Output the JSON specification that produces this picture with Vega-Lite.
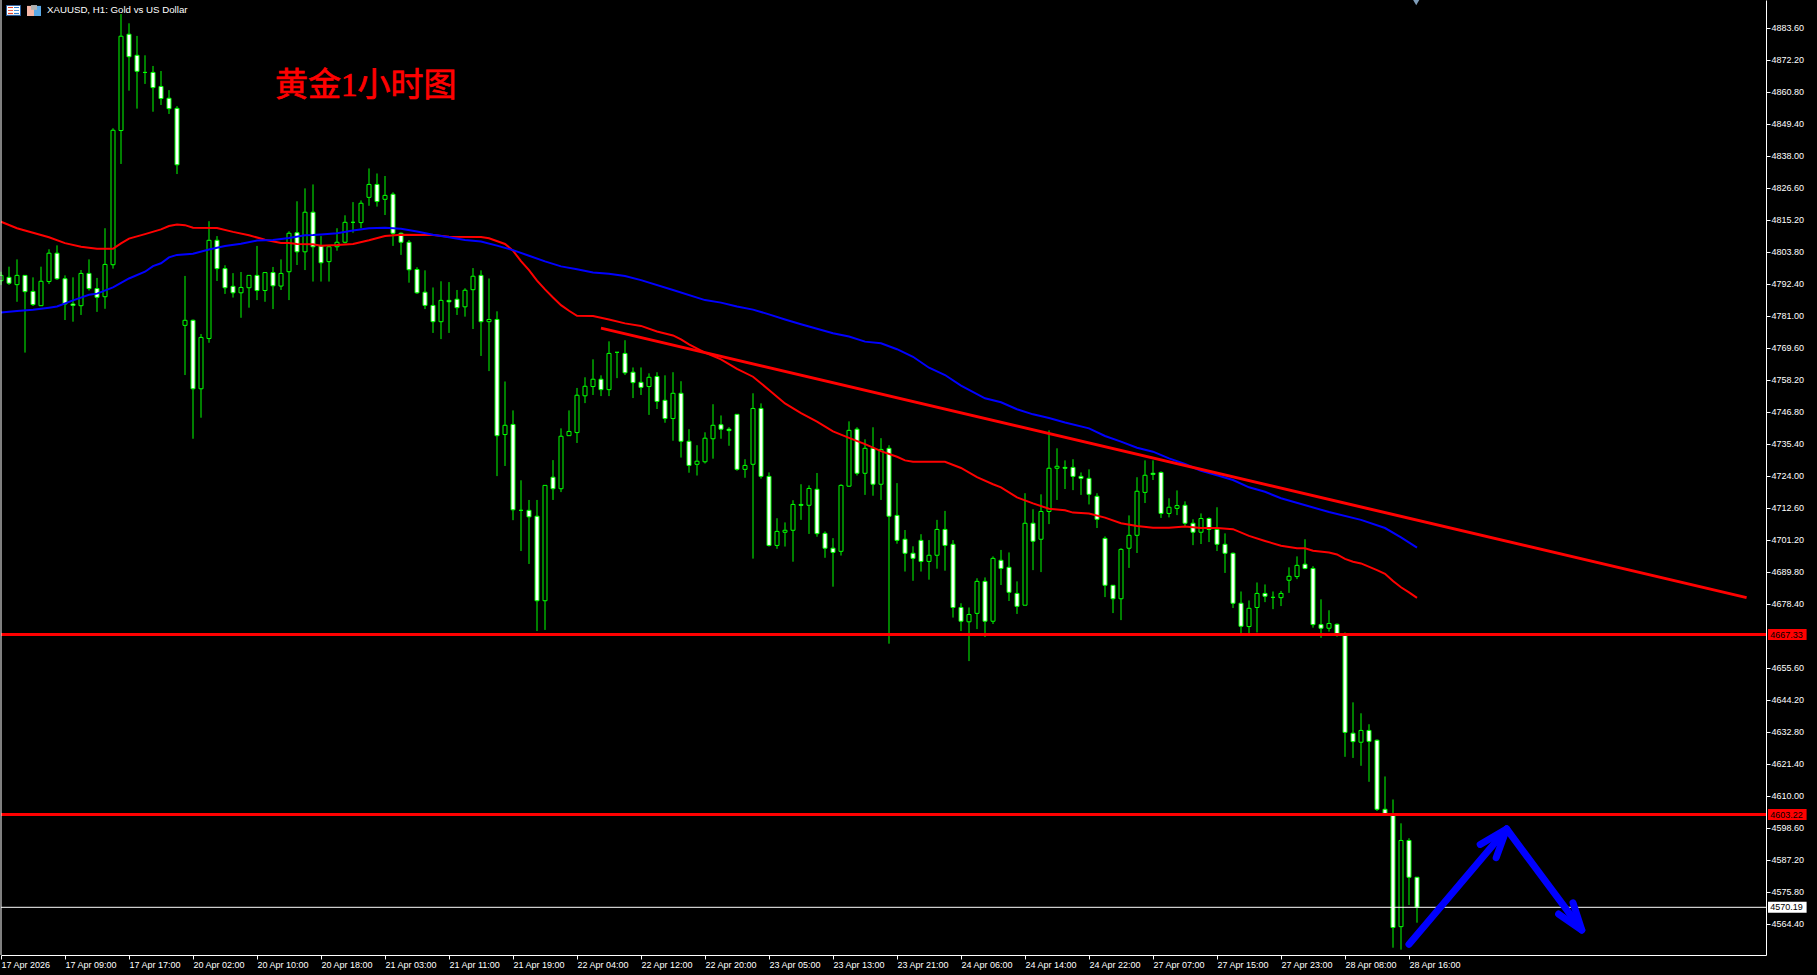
{
"$schema":"https://vega.github.io/schema/vega-lite/v6.json",
"width":1765,"height":955,
"autosize":{"type":"none"},
"padding":{"left":1,"top":0,"right":51,"bottom":20},
"background":"#000000",
"config":{"view":{"stroke":null}},
"datasets":{
"candles":[
{"i":0,"o":4793.4,"h":4796.6,"l":4791.9,"c":4795.3},{"i":1,"o":4794.6,"h":4798.4,"l":4791.9,"c":4792.5},{"i":2,"o":4792.0,"h":4801.0,"l":4785.9,"c":4795.3},{"i":3,"o":4795.3,"h":4795.3,"l":4767.8,"c":4789.5},{"i":4,"o":4789.6,"h":4794.6,"l":4784.4,"c":4784.9},{"i":5,"o":4784.5,"h":4798.4,"l":4784.4,"c":4793.2},{"i":6,"o":4793.1,"h":4804.6,"l":4792.2,"c":4803.2},{"i":7,"o":4803.2,"h":4806.0,"l":4793.7,"c":4794.1},{"i":8,"o":4794.1,"h":4795.3,"l":4779.4,"c":4785.1},{"i":9,"o":4785.1,"h":4794.6,"l":4778.8,"c":4784.6},
{"i":10,"o":4784.5,"h":4797.2,"l":4781.2,"c":4796.0},{"i":11,"o":4796.0,"h":4801.0,"l":4789.9,"c":4790.6},{"i":12,"o":4790.6,"h":4794.4,"l":4782.3,"c":4787.5},{"i":13,"o":4787.7,"h":4812.1,"l":4783.4,"c":4799.2},{"i":14,"o":4799.1,"h":4847.7,"l":4797.7,"c":4847.0},{"i":15,"o":4846.9,"h":4888.4,"l":4835.0,"c":4880.5},{"i":16,"o":4881.2,"h":4885.1,"l":4861.1,"c":4873.2},{"i":17,"o":4873.7,"h":4880.6,"l":4854.7,"c":4868.0},{"i":18,"o":4867.6,"h":4873.7,"l":4863.5,"c":4867.6},{"i":19,"o":4867.6,"h":4869.9,"l":4853.6,"c":4862.2},
{"i":20,"o":4862.6,"h":4868.1,"l":4856.0,"c":4858.3},{"i":21,"o":4858.4,"h":4861.3,"l":4852.8,"c":4854.7},{"i":22,"o":4854.8,"h":4855.6,"l":4831.4,"c":4834.7},{"i":23,"o":4777.5,"h":4795.1,"l":4759.8,"c":4779.3},{"i":24,"o":4779.3,"h":4779.6,"l":4737.1,"c":4754.9},{"i":25,"o":4754.9,"h":4774.4,"l":4744.6,"c":4773.2},{"i":26,"o":4772.8,"h":4814.6,"l":4771.3,"c":4807.8},{"i":27,"o":4807.8,"h":4809.3,"l":4793.3,"c":4797.7},{"i":28,"o":4797.7,"h":4798.9,"l":4788.7,"c":4790.9},{"i":29,"o":4791.4,"h":4796.1,"l":4787.4,"c":4789.1},
{"i":30,"o":4789.1,"h":4796.5,"l":4780.2,"c":4791.0},{"i":31,"o":4790.9,"h":4795.3,"l":4783.8,"c":4795.3},{"i":32,"o":4795.3,"h":4805.8,"l":4786.5,"c":4789.9},{"i":33,"o":4789.9,"h":4796.3,"l":4785.9,"c":4796.3},{"i":34,"o":4796.3,"h":4798.3,"l":4783.3,"c":4791.6},{"i":35,"o":4791.5,"h":4801.0,"l":4790.1,"c":4796.0},{"i":36,"o":4796.6,"h":4811.0,"l":4786.5,"c":4810.3},{"i":37,"o":4810.5,"h":4821.7,"l":4799.0,"c":4803.7},{"i":38,"o":4803.7,"h":4826.3,"l":4797.2,"c":4817.8},{"i":39,"o":4817.8,"h":4827.7,"l":4793.1,"c":4805.5},
{"i":40,"o":4805.8,"h":4809.3,"l":4793.1,"c":4799.8},{"i":41,"o":4800.2,"h":4806.1,"l":4793.1,"c":4805.5},{"i":42,"o":4805.5,"h":4812.1,"l":4804.1,"c":4807.1},{"i":43,"o":4807.1,"h":4816.7,"l":4806.7,"c":4814.2},{"i":44,"o":4814.2,"h":4821.4,"l":4810.5,"c":4814.2},{"i":45,"o":4814.1,"h":4822.0,"l":4812.1,"c":4821.0},{"i":46,"o":4823.1,"h":4833.4,"l":4820.1,"c":4827.7},{"i":47,"o":4827.7,"h":4831.6,"l":4819.8,"c":4821.6},{"i":48,"o":4822.4,"h":4830.7,"l":4816.8,"c":4823.8},{"i":49,"o":4824.2,"h":4824.9,"l":4805.8,"c":4810.3},
{"i":50,"o":4810.3,"h":4810.6,"l":4802.6,"c":4807.1},{"i":51,"o":4807.1,"h":4807.9,"l":4792.7,"c":4797.3},{"i":52,"o":4797.4,"h":4798.2,"l":4788.7,"c":4789.1},{"i":53,"o":4789.3,"h":4797.1,"l":4783.3,"c":4784.6},{"i":54,"o":4784.6,"h":4791.0,"l":4774.8,"c":4778.8},{"i":55,"o":4778.8,"h":4793.2,"l":4772.6,"c":4786.4},{"i":56,"o":4786.4,"h":4792.9,"l":4774.8,"c":4785.9},{"i":57,"o":4786.8,"h":4790.1,"l":4781.2,"c":4783.8},{"i":58,"o":4784.1,"h":4790.7,"l":4780.6,"c":4790.0},{"i":59,"o":4790.2,"h":4797.9,"l":4776.2,"c":4795.0},
{"i":60,"o":4795.3,"h":4797.1,"l":4766.6,"c":4778.8},{"i":61,"o":4778.8,"h":4794.2,"l":4761.2,"c":4779.6},{"i":62,"o":4779.6,"h":4782.5,"l":4723.8,"c":4738.2},{"i":63,"o":4738.6,"h":4757.5,"l":4727.4,"c":4741.9},{"i":64,"o":4742.2,"h":4747.2,"l":4708.1,"c":4711.8},{"i":65,"o":4711.6,"h":4722.3,"l":4697.1,"c":4711.6},{"i":66,"o":4711.6,"h":4715.3,"l":4692.5,"c":4709.3},{"i":67,"o":4709.5,"h":4715.3,"l":4668.6,"c":4679.4},{"i":68,"o":4679.4,"h":4720.5,"l":4669.0,"c":4720.5},{"i":69,"o":4723.4,"h":4729.5,"l":4715.3,"c":4719.3},
{"i":70,"o":4719.3,"h":4740.8,"l":4718.1,"c":4738.0},{"i":71,"o":4738.2,"h":4747.2,"l":4738.2,"c":4739.7},{"i":72,"o":4739.3,"h":4755.2,"l":4735.6,"c":4752.6},{"i":73,"o":4752.4,"h":4759.0,"l":4749.8,"c":4755.8},{"i":74,"o":4755.7,"h":4765.4,"l":4752.7,"c":4758.3},{"i":75,"o":4758.3,"h":4759.7,"l":4752.3,"c":4754.6},{"i":76,"o":4754.6,"h":4771.8,"l":4752.3,"c":4767.5},{"i":77,"o":4767.9,"h":4767.9,"l":4758.7,"c":4767.9},{"i":78,"o":4767.5,"h":4772.2,"l":4759.8,"c":4760.6},{"i":79,"o":4760.8,"h":4762.5,"l":4751.6,"c":4757.1},
{"i":80,"o":4757.2,"h":4762.5,"l":4752.7,"c":4755.4},{"i":81,"o":4755.7,"h":4760.4,"l":4745.6,"c":4759.0},{"i":82,"o":4759.3,"h":4760.8,"l":4747.7,"c":4750.4},{"i":83,"o":4750.8,"h":4759.7,"l":4742.8,"c":4744.3},{"i":84,"o":4744.3,"h":4760.8,"l":4736.4,"c":4753.3},{"i":85,"o":4753.3,"h":4757.6,"l":4730.4,"c":4736.2},{"i":86,"o":4736.2,"h":4740.5,"l":4725.0,"c":4727.6},{"i":87,"o":4728.0,"h":4734.8,"l":4724.0,"c":4729.1},{"i":88,"o":4728.9,"h":4739.4,"l":4728.3,"c":4737.3},{"i":89,"o":4737.1,"h":4749.4,"l":4730.0,"c":4741.9},
{"i":90,"o":4742.1,"h":4745.4,"l":4737.1,"c":4740.5},{"i":91,"o":4740.5,"h":4741.2,"l":4734.6,"c":4740.0},{"i":92,"o":4745.8,"h":4745.8,"l":4725.7,"c":4726.2},{"i":93,"o":4726.2,"h":4729.8,"l":4723.2,"c":4727.6},{"i":94,"o":4728.0,"h":4753.3,"l":4694.4,"c":4747.9},{"i":95,"o":4747.9,"h":4749.7,"l":4722.9,"c":4723.7},{"i":96,"o":4723.7,"h":4725.1,"l":4698.7,"c":4699.1},{"i":97,"o":4699.1,"h":4708.8,"l":4697.9,"c":4704.1},{"i":98,"o":4703.8,"h":4707.3,"l":4698.7,"c":4704.5},{"i":99,"o":4704.5,"h":4715.2,"l":4693.3,"c":4713.7},
{"i":100,"o":4713.7,"h":4720.9,"l":4708.2,"c":4713.4},{"i":101,"o":4713.4,"h":4720.5,"l":4703.2,"c":4719.4},{"i":102,"o":4719.1,"h":4724.9,"l":4702.2,"c":4703.3},{"i":103,"o":4703.4,"h":4704.1,"l":4694.7,"c":4698.1},{"i":104,"o":4698.1,"h":4701.7,"l":4684.4,"c":4696.6},{"i":105,"o":4697.0,"h":4720.9,"l":4695.5,"c":4720.5},{"i":106,"o":4720.2,"h":4743.3,"l":4720.0,"c":4740.1},{"i":107,"o":4740.5,"h":4741.2,"l":4724.0,"c":4724.8},{"i":108,"o":4724.8,"h":4736.9,"l":4717.1,"c":4733.7},{"i":109,"o":4733.7,"h":4741.2,"l":4716.8,"c":4720.9},
{"i":110,"o":4720.9,"h":4737.3,"l":4715.3,"c":4733.3},{"i":111,"o":4733.7,"h":4734.8,"l":4664.1,"c":4709.5},{"i":112,"o":4709.8,"h":4721.3,"l":4699.7,"c":4700.9},{"i":113,"o":4701.3,"h":4704.6,"l":4689.8,"c":4696.3},{"i":114,"o":4696.3,"h":4698.8,"l":4686.5,"c":4694.5},{"i":115,"o":4700.9,"h":4703.1,"l":4689.8,"c":4693.4},{"i":116,"o":4693.4,"h":4701.0,"l":4686.9,"c":4695.6},{"i":117,"o":4695.6,"h":4708.2,"l":4690.8,"c":4704.8},{"i":118,"o":4704.8,"h":4711.4,"l":4690.1,"c":4699.1},{"i":119,"o":4699.5,"h":4701.0,"l":4673.4,"c":4677.0},
{"i":120,"o":4677.0,"h":4678.5,"l":4668.6,"c":4672.1},{"i":121,"o":4671.9,"h":4677.0,"l":4657.9,"c":4674.5},{"i":122,"o":4674.9,"h":4687.4,"l":4669.3,"c":4686.3},{"i":123,"o":4686.3,"h":4687.7,"l":4666.5,"c":4672.1},{"i":124,"o":4672.1,"h":4695.2,"l":4671.1,"c":4694.5},{"i":125,"o":4693.8,"h":4697.5,"l":4685.0,"c":4690.9},{"i":126,"o":4691.3,"h":4696.6,"l":4679.3,"c":4682.4},{"i":127,"o":4682.0,"h":4686.3,"l":4674.7,"c":4677.4},{"i":128,"o":4677.8,"h":4717.7,"l":4677.8,"c":4707.0},{"i":129,"o":4707.0,"h":4712.0,"l":4690.3,"c":4700.6},
{"i":130,"o":4701.3,"h":4717.3,"l":4689.6,"c":4711.2},{"i":131,"o":4711.2,"h":4740.1,"l":4706.7,"c":4726.6},{"i":132,"o":4726.6,"h":4733.7,"l":4715.3,"c":4727.3},{"i":133,"o":4726.9,"h":4729.4,"l":4719.2,"c":4726.6},{"i":134,"o":4726.9,"h":4729.8,"l":4718.8,"c":4723.7},{"i":135,"o":4723.7,"h":4725.1,"l":4717.1,"c":4723.0},{"i":136,"o":4723.0,"h":4726.2,"l":4713.7,"c":4717.3},{"i":137,"o":4716.6,"h":4717.7,"l":4705.3,"c":4708.4},{"i":138,"o":4701.6,"h":4702.3,"l":4680.7,"c":4684.9},{"i":139,"o":4684.9,"h":4684.9,"l":4675.0,"c":4680.1},
{"i":140,"o":4680.1,"h":4698.1,"l":4672.5,"c":4697.7},{"i":141,"o":4698.1,"h":4709.8,"l":4691.1,"c":4702.7},{"i":142,"o":4702.7,"h":4723.4,"l":4696.4,"c":4718.4},{"i":143,"o":4718.0,"h":4729.4,"l":4714.2,"c":4724.1},{"i":144,"o":4724.8,"h":4729.4,"l":4722.4,"c":4724.4},{"i":145,"o":4725.1,"h":4725.5,"l":4708.9,"c":4710.5},{"i":146,"o":4710.5,"h":4715.9,"l":4709.1,"c":4712.7},{"i":147,"o":4712.3,"h":4718.7,"l":4709.9,"c":4713.3},{"i":148,"o":4713.4,"h":4714.8,"l":4705.8,"c":4707.0},{"i":149,"o":4707.0,"h":4708.4,"l":4699.2,"c":4703.8},
{"i":150,"o":4703.8,"h":4710.5,"l":4699.6,"c":4708.7},{"i":151,"o":4708.7,"h":4709.1,"l":4700.3,"c":4704.8},{"i":152,"o":4704.8,"h":4712.7,"l":4697.1,"c":4699.5},{"i":153,"o":4699.5,"h":4703.4,"l":4689.3,"c":4696.3},{"i":154,"o":4696.3,"h":4696.6,"l":4676.8,"c":4678.5},{"i":155,"o":4678.5,"h":4682.7,"l":4667.8,"c":4670.3},{"i":156,"o":4670.2,"h":4679.5,"l":4667.8,"c":4676.7},{"i":157,"o":4677.0,"h":4685.9,"l":4668.1,"c":4682.0},{"i":158,"o":4682.0,"h":4685.2,"l":4678.9,"c":4681.0},{"i":159,"o":4680.6,"h":4682.7,"l":4676.4,"c":4680.6},
{"i":160,"o":4680.5,"h":4682.9,"l":4677.5,"c":4682.0},{"i":161,"o":4686.7,"h":4691.3,"l":4682.2,"c":4688.1},{"i":162,"o":4688.0,"h":4695.2,"l":4687.1,"c":4692.0},{"i":163,"o":4692.4,"h":4701.3,"l":4690.6,"c":4690.9},{"i":164,"o":4690.9,"h":4691.7,"l":4669.8,"c":4670.9},{"i":165,"o":4670.9,"h":4679.9,"l":4666.2,"c":4669.6},{"i":166,"o":4669.6,"h":4676.0,"l":4668.4,"c":4671.3},{"i":167,"o":4671.0,"h":4671.3,"l":4666.6,"c":4667.4},{"i":168,"o":4667.4,"h":4668.1,"l":4623.8,"c":4632.5},{"i":169,"o":4632.2,"h":4643.2,"l":4623.4,"c":4629.2},
{"i":170,"o":4629.0,"h":4639.3,"l":4620.6,"c":4633.2},{"i":171,"o":4633.2,"h":4635.4,"l":4614.9,"c":4629.3},{"i":172,"o":4629.7,"h":4630.0,"l":4604.5,"c":4605.1},{"i":173,"o":4605.1,"h":4616.8,"l":4603.1,"c":4603.1},{"i":174,"o":4603.3,"h":4608.6,"l":4555.8,"c":4563.0},{"i":175,"o":4563.3,"h":4600.1,"l":4555.1,"c":4594.0},{"i":176,"o":4594.0,"h":4594.8,"l":4571.0,"c":4580.9},{"i":177,"o":4580.9,"h":4580.9,"l":4564.7,"c":4570.2}
],
"averages":[
{"ma":"fast","i":0,"p":4814.4},{"ma":"fast","i":2,"p":4812.1},{"ma":"fast","i":4,"p":4810.5},{"ma":"fast","i":6,"p":4808.9},{"ma":"fast","i":8,"p":4806.8},{"ma":"fast","i":10,"p":4805.5},{"ma":"fast","i":12,"p":4804.8},{"ma":"fast","i":14,"p":4804.8},{"ma":"fast","i":15,"p":4806.7},{"ma":"fast","i":16,"p":4808.4},{"ma":"fast","i":18,"p":4810.0},{"ma":"fast","i":20,"p":4811.7},{"ma":"fast","i":21,"p":4812.9},{"ma":"fast","i":22,"p":4813.4},{"ma":"fast","i":23,"p":4813.2},{"ma":"fast","i":24,"p":4812.3},{"ma":"fast","i":27,"p":4812.2},{"ma":"fast","i":29,"p":4810.8},{"ma":"fast","i":31,"p":4809.6},{"ma":"fast","i":33,"p":4808.0},{"ma":"fast","i":35,"p":4806.8},{"ma":"fast","i":36,"p":4806.8},{"ma":"fast","i":37,"p":4806.5},{"ma":"fast","i":39,"p":4806.4},
{"ma":"fast","i":40,"p":4805.9},{"ma":"fast","i":42,"p":4806.1},{"ma":"fast","i":44,"p":4806.5},{"ma":"fast","i":46,"p":4807.8},{"ma":"fast","i":48,"p":4809.3},{"ma":"fast","i":50,"p":4809.8},{"ma":"fast","i":54,"p":4809.7},{"ma":"fast","i":56,"p":4809.1},{"ma":"fast","i":60,"p":4809.0},{"ma":"fast","i":61,"p":4808.5},{"ma":"fast","i":63,"p":4806.5},{"ma":"fast","i":64,"p":4804.1},{"ma":"fast","i":65,"p":4800.4},{"ma":"fast","i":66,"p":4797.2},{"ma":"fast","i":67,"p":4793.4},{"ma":"fast","i":68,"p":4790.3},{"ma":"fast","i":69,"p":4787.4},{"ma":"fast","i":70,"p":4784.7},{"ma":"fast","i":71,"p":4782.7},{"ma":"fast","i":72,"p":4780.9},{"ma":"fast","i":74,"p":4780.8},{"ma":"fast","i":76,"p":4779.6},{"ma":"fast","i":78,"p":4778.2},
{"ma":"fast","i":80,"p":4777.3},{"ma":"fast","i":82,"p":4775.3},{"ma":"fast","i":84,"p":4773.9},{"ma":"fast","i":85,"p":4772.5},{"ma":"fast","i":86,"p":4770.7},{"ma":"fast","i":88,"p":4767.8},{"ma":"fast","i":90,"p":4765.4},{"ma":"fast","i":92,"p":4762.0},{"ma":"fast","i":94,"p":4759.2},{"ma":"fast","i":96,"p":4754.5},{"ma":"fast","i":98,"p":4749.7},{"ma":"fast","i":100,"p":4746.2},{"ma":"fast","i":102,"p":4743.2},{"ma":"fast","i":104,"p":4739.7},{"ma":"fast","i":106,"p":4737.4},{"ma":"fast","i":108,"p":4735.2},{"ma":"fast","i":110,"p":4732.7},{"ma":"fast","i":112,"p":4730.7},{"ma":"fast","i":113,"p":4729.4},{"ma":"fast","i":114,"p":4728.9},{"ma":"fast","i":118,"p":4728.9},{"ma":"fast","i":120,"p":4726.7},
{"ma":"fast","i":122,"p":4723.4},{"ma":"fast","i":124,"p":4720.9},{"ma":"fast","i":125,"p":4719.8},{"ma":"fast","i":127,"p":4716.2},{"ma":"fast","i":129,"p":4714.1},{"ma":"fast","i":131,"p":4712.2},{"ma":"fast","i":133,"p":4711.6},{"ma":"fast","i":134,"p":4710.8},{"ma":"fast","i":136,"p":4710.5},{"ma":"fast","i":138,"p":4709.0},{"ma":"fast","i":140,"p":4707.0},{"ma":"fast","i":142,"p":4706.0},{"ma":"fast","i":144,"p":4705.4},{"ma":"fast","i":146,"p":4705.4},{"ma":"fast","i":148,"p":4705.8},{"ma":"fast","i":150,"p":4705.3},{"ma":"fast","i":152,"p":4705.3},{"ma":"fast","i":154,"p":4704.9},{"ma":"fast","i":156,"p":4702.5},{"ma":"fast","i":158,"p":4700.7},
{"ma":"fast","i":160,"p":4699.0},{"ma":"fast","i":162,"p":4698.1},{"ma":"fast","i":163,"p":4698.1},{"ma":"fast","i":164,"p":4697.2},{"ma":"fast","i":166,"p":4696.6},{"ma":"fast","i":167,"p":4695.9},{"ma":"fast","i":168,"p":4694.3},{"ma":"fast","i":169,"p":4693.3},{"ma":"fast","i":170,"p":4692.7},{"ma":"fast","i":172,"p":4690.3},{"ma":"fast","i":173,"p":4689.0},{"ma":"fast","i":174,"p":4686.4},{"ma":"fast","i":175,"p":4684.2},{"ma":"fast","i":176,"p":4682.4},{"ma":"fast","i":177,"p":4680.4},
{"ma":"slow","i":0,"p":4782.1},{"ma":"slow","i":2,"p":4782.6},{"ma":"slow","i":4,"p":4783.1},{"ma":"slow","i":6,"p":4783.8},{"ma":"slow","i":7,"p":4784.2},{"ma":"slow","i":9,"p":4786.4},{"ma":"slow","i":11,"p":4788.4},{"ma":"slow","i":12,"p":4788.8},{"ma":"slow","i":14,"p":4791.0},{"ma":"slow","i":16,"p":4794.2},{"ma":"slow","i":18,"p":4796.6},{"ma":"slow","i":19,"p":4798.6},{"ma":"slow","i":20,"p":4799.6},{"ma":"slow","i":21,"p":4801.7},{"ma":"slow","i":22,"p":4802.6},{"ma":"slow","i":24,"p":4803.0},{"ma":"slow","i":26,"p":4804.5},{"ma":"slow","i":28,"p":4805.8},{"ma":"slow","i":30,"p":4806.6},{"ma":"slow","i":32,"p":4807.7},{"ma":"slow","i":34,"p":4807.9},{"ma":"slow","i":36,"p":4808.6},{"ma":"slow","i":38,"p":4809.6},{"ma":"slow","i":39,"p":4809.7},
{"ma":"slow","i":40,"p":4809.9},{"ma":"slow","i":42,"p":4810.3},{"ma":"slow","i":44,"p":4811.3},{"ma":"slow","i":46,"p":4812.1},{"ma":"slow","i":48,"p":4812.3},{"ma":"slow","i":50,"p":4811.9},{"ma":"slow","i":52,"p":4810.9},{"ma":"slow","i":54,"p":4809.8},{"ma":"slow","i":56,"p":4808.9},{"ma":"slow","i":58,"p":4807.9},{"ma":"slow","i":60,"p":4807.4},{"ma":"slow","i":62,"p":4805.9},{"ma":"slow","i":64,"p":4804.3},{"ma":"slow","i":66,"p":4802.3},{"ma":"slow","i":68,"p":4800.3},{"ma":"slow","i":70,"p":4798.5},{"ma":"slow","i":72,"p":4797.5},{"ma":"slow","i":74,"p":4796.3},{"ma":"slow","i":76,"p":4795.9},{"ma":"slow","i":78,"p":4795.1},{"ma":"slow","i":80,"p":4793.6},
{"ma":"slow","i":84,"p":4790.1},{"ma":"slow","i":88,"p":4786.5},{"ma":"slow","i":90,"p":4785.6},{"ma":"slow","i":92,"p":4784.2},{"ma":"slow","i":94,"p":4783.1},{"ma":"slow","i":96,"p":4781.4},{"ma":"slow","i":98,"p":4779.6},{"ma":"slow","i":100,"p":4777.9},{"ma":"slow","i":102,"p":4776.3},{"ma":"slow","i":104,"p":4774.7},{"ma":"slow","i":106,"p":4773.5},{"ma":"slow","i":108,"p":4771.7},{"ma":"slow","i":110,"p":4771.1},{"ma":"slow","i":112,"p":4769.0},{"ma":"slow","i":114,"p":4766.3},{"ma":"slow","i":116,"p":4762.4},{"ma":"slow","i":118,"p":4759.8},{"ma":"slow","i":120,"p":4756.0},
{"ma":"slow","i":123,"p":4751.5},{"ma":"slow","i":125,"p":4750.1},{"ma":"slow","i":127,"p":4747.6},{"ma":"slow","i":129,"p":4745.8},{"ma":"slow","i":131,"p":4744.5},{"ma":"slow","i":133,"p":4742.9},{"ma":"slow","i":136,"p":4740.8},{"ma":"slow","i":138,"p":4738.1},{"ma":"slow","i":140,"p":4736.1},{"ma":"slow","i":142,"p":4733.9},{"ma":"slow","i":144,"p":4732.5},{"ma":"slow","i":146,"p":4730.1},{"ma":"slow","i":148,"p":4728.1},{"ma":"slow","i":150,"p":4725.7},{"ma":"slow","i":152,"p":4724.1},{"ma":"slow","i":154,"p":4722.4},{"ma":"slow","i":156,"p":4719.8},{"ma":"slow","i":158,"p":4718.2},{"ma":"slow","i":160,"p":4715.9},{"ma":"slow","i":166,"p":4711.0},{"ma":"slow","i":170,"p":4708.2},{"ma":"slow","i":173,"p":4705.3},{"ma":"slow","i":175,"p":4702.0},{"ma":"slow","i":177,"p":4698.3}
],
"trend":[{"i":75,"p":4776.5},{"i":218.2,"p":4680.5}],
"arrows":[
{"seg":"a","k":0,"i":176.0,"p":4557.0},{"seg":"a","k":1,"i":188.2,"p":4598.1},
{"seg":"b","k":0,"i":188.2,"p":4598.1},{"seg":"b","k":1,"i":197.6,"p":4562.1},
{"seg":"c","k":0,"i":184.9,"p":4592.6},{"seg":"c","k":1,"i":188.2,"p":4598.1},{"seg":"c","k":2,"i":186.9,"p":4587.9},
{"seg":"d","k":0,"i":194.7,"p":4567.8},{"seg":"d","k":1,"i":197.6,"p":4562.1},{"seg":"d","k":2,"i":196.5,"p":4571.8}
],
"tags":[
{"i":220.875,"i2":225.7,"tx":221.15,"p":4667.33,"lo":4665.37,"hi":4669.29,"bg":"red"},
{"i":220.875,"i2":225.7,"tx":221.15,"p":4603.22,"lo":4601.26,"hi":4605.18,"bg":"red"},
{"i":220.875,"i2":225.7,"tx":221.15,"p":4570.19,"lo":4568.23,"hi":4572.15,"bg":"white"}
],
"icons":[
{"i":0.625,"i2":2.5,"lo":4887.7,"hi":4891.6,"col":"#2a5f9e"},
{"i":0.75,"i2":2.375,"lo":4888.1,"hi":4891.3,"col":"#ffffff"},
{"i":0.875,"i2":1.5,"lo":4890.55,"hi":4890.9,"col":"#e8442e"},
{"i":0.875,"i2":1.5,"lo":4889.5,"hi":4889.8,"col":"#e8442e"},
{"i":0.875,"i2":1.5,"lo":4888.4,"hi":4888.8,"col":"#e8442e"},
{"i":1.625,"i2":2.25,"lo":4890.55,"hi":4890.9,"col":"#2f7fd0"},
{"i":1.625,"i2":2.25,"lo":4889.5,"hi":4889.8,"col":"#2f7fd0"},
{"i":1.625,"i2":2.25,"lo":4888.4,"hi":4888.8,"col":"#2f7fd0"},
{"i":3.25,"i2":4.125,"lo":4887.7,"hi":4891.3,"col":"#f6b7a8"},
{"i":4.125,"i2":5.0,"lo":4887.7,"hi":4891.3,"col":"#5aa9e6"},
{"i":3.75,"i2":4.5,"lo":4889.9,"hi":4891.6,"col":"#b0b0b0"}
],
"notes":[
{"i":5.75,"p":4889.8,"txt":"XAUUSD, H1:  Gold vs US Dollar","kind":"head"}
],
"title":[{"i":34.25,"p":4862.9,"txt":"黄金1小时图"}],
"marker":[{"i":176.9,"p":4892.9}]
},
"layer":[
{"data":{"name":"candles"},
 "mark":{"type":"rule","color":"#00ff00","strokeWidth":1},
 "encoding":{
  "x":{"field":"i","type":"quantitative","scale":{"domain":[0,220.625],"nice":false,"zero":false,"padding":0},
   "axis":{"orient":"bottom","title":null,"grid":false,"domainColor":"#ffffff","domainWidth":1,"tickColor":"#ffffff","tickSize":4,"labelColor":"#ffffff","labelFont":"Liberation Sans","labelFontSize":9,"labelAlign":"left","labelBaseline":"top","labelPadding":1,"labelOverlap":false,"labelBound":false,"labelFlush":false,"tickCount":40,
   "values":[0,8,16,24,32,40,48,56,64,72,80,88,96,104,112,120,128,136,144,152,160,168,176],
   "labelExpr":"['17 Apr 2026','17 Apr 09:00','17 Apr 17:00','20 Apr 02:00','20 Apr 10:00','20 Apr 18:00','21 Apr 03:00','21 Apr 11:00','21 Apr 19:00','22 Apr 04:00','22 Apr 12:00','22 Apr 20:00','23 Apr 05:00','23 Apr 13:00','23 Apr 21:00','24 Apr 06:00','24 Apr 14:00','24 Apr 22:00','27 Apr 07:00','27 Apr 15:00','27 Apr 23:00','28 Apr 08:00','28 Apr 16:00'][datum.value/8]"}},
  "y":{"field":"l","type":"quantitative","scale":{"domain":[4553.2,4893.4],"nice":false,"zero":false},
   "axis":{"orient":"right","title":null,"grid":false,"domainColor":"#ffffff","domainWidth":1,"tickColor":"#ffffff","tickSize":4,"labelColor":"#ffffff","labelFont":"Liberation Sans","labelFontSize":9,"labelPadding":1,"labelOverlap":false,"labelBound":false,"labelFlush":false,"format":".2f","tickCount":60,
   "values":[4883.6,4872.2,4860.8,4849.4,4838,4826.6,4815.2,4803.8,4792.4,4781,4769.6,4758.2,4746.8,4735.4,4724,4712.6,4701.2,4689.8,4678.4,4655.6,4644.2,4632.8,4621.4,4610,4598.6,4587.2,4575.8,4564.4]}},
  "y2":{"field":"h"}
 }},
{"data":{"name":"candles"},
 "mark":{"type":"bar","size":4,"stroke":"#00ff00","strokeWidth":1},
 "encoding":{
  "x":{"field":"i","type":"quantitative"},
  "y":{"field":"o","type":"quantitative"},
  "y2":{"field":"c"},
  "fill":{"condition":{"test":"datum.c<datum.o","value":"#ffffff"},"value":"#000000"}
 }},
{"data":{"name":"averages"},
 "mark":{"type":"line","strokeWidth":2,"interpolate":"linear"},
 "encoding":{
  "x":{"field":"i","type":"quantitative"},
  "y":{"field":"p","type":"quantitative"},
  "color":{"field":"ma","type":"nominal","scale":{"domain":["fast","slow"],"range":["#ff0000","#0000ff"]},"legend":null}
 }},
{"data":{"values":[{"p":4667.33},{"p":4603.22}]},
 "mark":{"type":"rule","color":"#ff0000","strokeWidth":3},
 "encoding":{"y":{"field":"p","type":"quantitative"}}},
{"data":{"values":[{"p":4570.19}]},
 "mark":{"type":"rule","color":"#ffffff","strokeWidth":1},
 "encoding":{"y":{"field":"p","type":"quantitative"}}},
{"data":{"values":[{"i":0}]},
 "mark":{"type":"rule","color":"#ffffff","strokeWidth":1},
 "encoding":{"x":{"field":"i","type":"quantitative"}}},
{"data":{"name":"trend"},
 "mark":{"type":"line","color":"#ff0000","strokeWidth":3},
 "encoding":{"x":{"field":"i","type":"quantitative"},"y":{"field":"p","type":"quantitative"}}},
{"data":{"name":"arrows"},
 "mark":{"type":"line","color":"#0000ff","strokeWidth":7,"strokeCap":"round","strokeJoin":"round"},
 "encoding":{"x":{"field":"i","type":"quantitative"},"y":{"field":"p","type":"quantitative"},"detail":{"field":"seg"},"order":{"field":"k","type":"quantitative"}}},
{"data":{"name":"tags"},
 "mark":{"type":"rect","clip":false},
 "encoding":{"x":{"field":"i","type":"quantitative"},"x2":{"field":"i2"},"y":{"field":"lo","type":"quantitative"},"y2":{"field":"hi"},
  "fill":{"field":"bg","type":"nominal","scale":null}}},
{"data":{"name":"tags"},
 "mark":{"type":"text","align":"left","baseline":"middle","color":"#000000","font":"Liberation Sans","fontSize":9},
 "encoding":{"x":{"field":"tx","type":"quantitative"},"y":{"field":"p","type":"quantitative"},"text":{"field":"p","type":"quantitative","format":".2f"}}},
{"data":{"name":"icons"},
 "mark":{"type":"rect"},
 "encoding":{"x":{"field":"i","type":"quantitative"},"x2":{"field":"i2"},"y":{"field":"lo","type":"quantitative"},"y2":{"field":"hi"},
  "fill":{"field":"col","type":"nominal","scale":null}}},
{"data":{"name":"notes"},
 "mark":{"type":"text","align":"left","baseline":"middle","color":"#ffffff","font":"Liberation Sans","fontSize":9.7},
 "encoding":{"x":{"field":"i","type":"quantitative"},"y":{"field":"p","type":"quantitative"},"text":{"field":"txt"}}},
{"data":{"name":"title"},
 "mark":{"type":"text","align":"left","baseline":"middle","color":"#ff0000","font":"Liberation Serif, Noto Sans CJK SC","fontSize":33,"fontWeight":"normal","stroke":"#ff0000","strokeWidth":0.7},
 "encoding":{"x":{"field":"i","type":"quantitative"},"y":{"field":"p","type":"quantitative"},"text":{"field":"txt"}}},
{"data":{"name":"marker"},
 "mark":{"type":"point","shape":"triangle-down","filled":true,"color":"#7f9db9","size":80,"opacity":1},
 "encoding":{"x":{"field":"i","type":"quantitative"},"y":{"field":"p","type":"quantitative"}}}
]
}
